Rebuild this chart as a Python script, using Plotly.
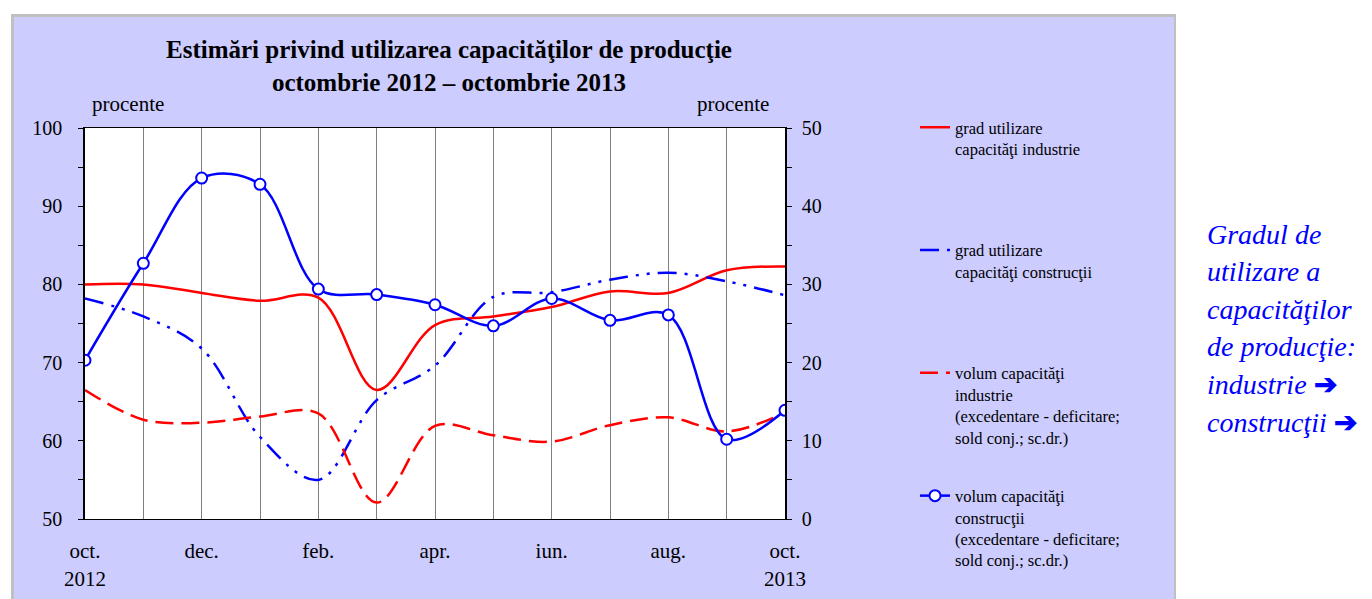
import plotly.graph_objects as go

# ---------------- data ----------------
months = ["oct.", "nov.", "dec.", "ian.", "feb.", "mar.", "apr.", "mai", "iun.", "iul.", "aug.", "sep.", "oct."]
tick_labels = ["oct.<br>2012", "", "dec.", "", "feb.", "", "apr.", "", "iun.", "", "aug.", "", "oct.<br>2013"]

grad_industrie = [80.0, 80.0, 78.9, 77.9, 78.3, 66.5, 74.8, 75.9, 77.1, 79.1, 78.9, 81.8, 82.3]
grad_constructii = [78.2, 75.9, 71.8, 60.5, 55.0, 65.2, 69.6, 78.4, 79.0, 80.6, 81.5, 80.4, 78.6]
volum_industrie = [16.5, 12.7, 12.3, 13.1, 13.5, 2.1, 11.9, 10.7, 9.9, 12.0, 13.0, 11.2, 13.6]
volum_constructii = [20.3, 32.7, 43.6, 42.8, 29.4, 28.7, 27.4, 24.7, 28.2, 25.4, 26.1, 10.2, 13.9]

names = [
    "grad utilizare<br>capacităţi industrie<br>&nbsp;<br>&nbsp;",
    "grad utilizare<br>capacităţi construcţii<br>&nbsp;<br>&nbsp;",
    "volum capacităţi<br>industrie<br>(excedentare - deficitare;<br>sold conj.; sc.dr.)",
    "volum capacităţi<br>construcţii<br>(excedentare - deficitare;<br>sold conj.; sc.dr.)",
]

side_lines = ["<i>Gradul de</i>", "<i>utilizare a</i>", "<i>capacităţilor</i>",
              "<i>de producţie:</i>", "<i>industrie</i> <b>➔</b>", "<i>construcţii</i> <b>➔</b>"]

x = list(range(len(months)))

# ---------------- geometry (reference pixel coords) ----------------
# the page body adds an 8px offset, so the figure is drawn 8px smaller/shifted
OFF = 8
L, R, T, B = 85, 785, 128, 519          # plot area in reference pixels
W, H = 1372 - OFF, 599 - OFF            # figure size


def fx(px):
    return (px - L) / (R - L)


def fy(py):
    return (B - py) / (B - T)


SERIF = "Liberation Serif, Times New Roman, serif"
RED = "#FF0000"
BLUE = "#0000FF"

fig = go.Figure()

fig.add_trace(go.Scatter(
    x=x, y=grad_industrie, name=names[0], mode="lines", legendgroup="a",
    line=dict(color=RED, width=2.5, shape="spline", smoothing=1), yaxis="y"))
fig.add_trace(go.Scatter(
    x=x, y=grad_constructii, name=names[1], mode="lines", legendgroup="b",
    line=dict(color=BLUE, width=2.5, shape="spline", smoothing=1,
              dash="19px,8px,3px,8px,3px,8px"), yaxis="y"))
fig.add_trace(go.Scatter(
    x=x, y=volum_industrie, name=names[2], mode="lines", legendgroup="c",
    line=dict(color=RED, width=2.5, shape="spline", smoothing=1, dash="18px,8px"),
    yaxis="y2"))
fig.add_trace(go.Scatter(
    x=x, y=volum_constructii, name=names[3], mode="lines+markers", legendgroup="d",
    line=dict(color=BLUE, width=2.5, shape="spline", smoothing=1),
    marker=dict(symbol="circle", size=11, color="white", line=dict(color=BLUE, width=2)),
    yaxis="y2"))

shapes = [
    dict(type="rect", xref="paper", yref="paper", x0=fx(11), x1=fx(1176), y0=fy(14), y1=fy(610),
         fillcolor="#C0C0C0", line=dict(width=0), layer="below"),
    dict(type="rect", xref="paper", yref="paper", x0=fx(14), x1=fx(1174), y0=fy(17), y1=fy(610),
         fillcolor="#CCCCFF", line=dict(width=0), layer="below"),
    dict(type="rect", xref="paper", yref="paper", x0=0, x1=1, y0=0, y1=1,
         fillcolor="white", line=dict(width=0), layer="below"),
]

annotations = [
    dict(text="procente", xref="paper", yref="paper", x=fx(128), y=fy(104), xanchor="center",
         yanchor="middle", showarrow=False, font=dict(family=SERIF, size=21, color="black")),
    dict(text="procente", xref="paper", yref="paper", x=fx(733), y=fy(104), xanchor="center",
         yanchor="middle", showarrow=False, font=dict(family=SERIF, size=21, color="black")),
]
for i, t in enumerate(side_lines):
    annotations.append(dict(
        text=t, xref="paper", yref="paper", x=fx(1205), y=fy(234 + i * 37.6),
        xanchor="left", yanchor="middle", showarrow=False,
        font=dict(family=SERIF, size=28, color=BLUE)))

fig.update_layout(
    width=W, height=H,
    margin=dict(l=L - OFF, r=W - (R - OFF), t=T - OFF, b=H - (B - OFF), autoexpand=False),
    paper_bgcolor="white", plot_bgcolor="white",
    title=dict(text="<b>Estimări privind utilizarea capacităţilor de producţie<br>octombrie 2012 – octombrie 2013</b>",
               xref="container", yref="container", x=(449 - OFF) / W, xanchor="center",
               y=1 - (58 - OFF) / H, yanchor="middle",
               font=dict(family=SERIF, size=25, color="black")),
    font=dict(family=SERIF, color="black"),
    showlegend=True,
    legend=dict(x=fx(915), y=fy(110), xanchor="left", yanchor="top",
                bgcolor="rgba(0,0,0,0)", borderwidth=0, valign="top", maxheight=560,
                tracegroupgap=34, font=dict(family=SERIF, size=16.5, color="black")),
    xaxis=dict(range=[0, 12], tickmode="array", tickvals=x, ticktext=tick_labels,
               showgrid=True, gridcolor="#808080", gridwidth=1,
               showline=True, linecolor="black", linewidth=1, mirror=True,
               ticks="", zeroline=False, ticklabelstandoff=13,
               tickfont=dict(family=SERIF, size=21, color="black")),
    yaxis=dict(range=[50, 100], dtick=10, tick0=50, showgrid=False, zeroline=False,
               showline=True, linecolor="black", linewidth=1.5,
               ticks="outside", ticklen=5, tickcolor="black",
               minor=dict(dtick=5, ticks="outside", ticklen=5, tickcolor="black"),
               ticklabelstandoff=12,
               tickfont=dict(family=SERIF, size=20, color="black")),
    yaxis2=dict(range=[0, 50], dtick=10, tick0=0, overlaying="y", side="right",
                showgrid=False, zeroline=False,
                showline=True, linecolor="black", linewidth=1.5,
                ticks="outside", ticklen=5, tickcolor="black",
                minor=dict(dtick=5, ticks="outside", ticklen=5, tickcolor="black"),
                ticklabelstandoff=6,
                tickfont=dict(family=SERIF, size=20, color="black")),
    shapes=shapes,
    annotations=annotations,
)

fig.write_html("out.html")
